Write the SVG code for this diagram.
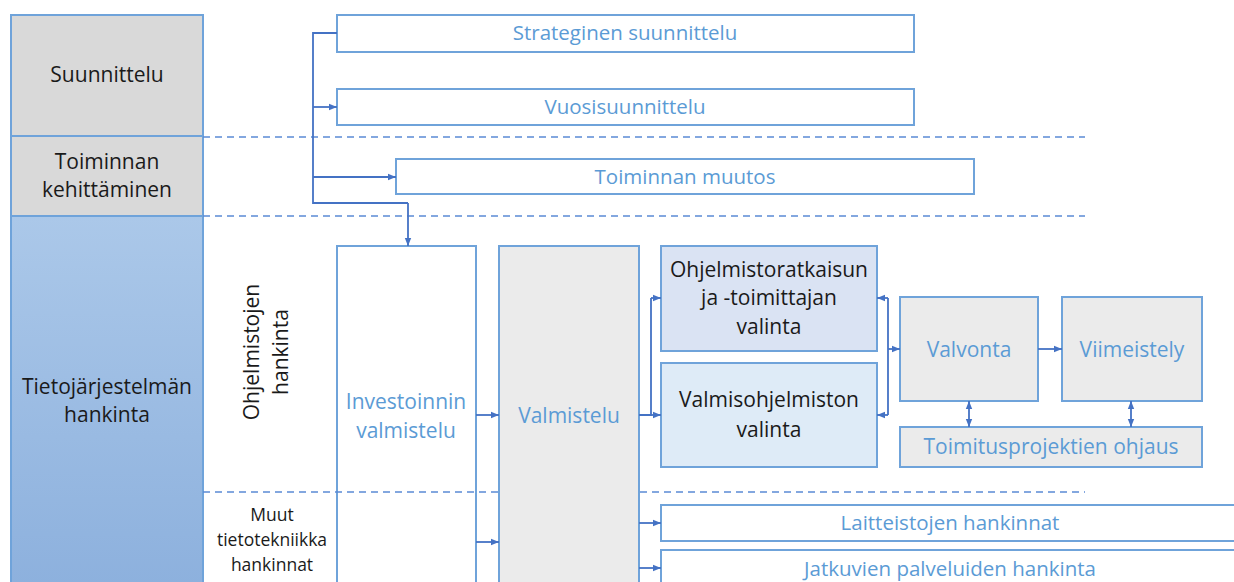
<svg xmlns="http://www.w3.org/2000/svg" width="1234" height="582" viewBox="0 0 1234 582">
  <defs>
    <linearGradient id="laneBlue" x1="0" y1="0" x2="0" y2="1">
      <stop offset="0" stop-color="#abc8e9"/>
      <stop offset="1" stop-color="#8cb0dd"/>
    </linearGradient>
    <marker id="arr" viewBox="0 0 8 8" refX="8" refY="4" markerWidth="8" markerHeight="8" markerUnits="userSpaceOnUse" orient="auto-start-reverse">
      <path d="M0,0.8 L8,4 L0,7.2 Z" fill="#4472c4"/>
    </marker>
    <style>
      .lane { stroke: #6fa3da; stroke-width: 2; }
      .box { stroke: #6fa3da; stroke-width: 2; }
      .white { fill: #ffffff; }
      .grey { fill: #ebebeb; }
      .dash { stroke: #5b8bd5; stroke-width: 1.5; stroke-dasharray: 7 5; fill: none; }
      .wire { stroke: #4472c4; stroke-width: 1.8; fill: none; }
      .arrow { marker-end: url(#arr); }
      .both { marker-start: url(#arr); marker-end: url(#arr); }
      text { font-family: "Open Sans", "Noto Sans", "Liberation Sans", sans-serif; text-anchor: middle; }
      .dark { fill: #1a1a1a; font-size: 21px; }
      .blue { fill: #5b9bd5; font-size: 20.5px; }
      .big { font-size: 21px; }
      .small { fill: #1a1a1a; font-size: 17.5px; }
    </style>
  </defs>

  <!-- swimlane headers -->
  <g id="lane-suunnittelu">
    <rect class="lane" x="11" y="15" width="192" height="121" fill="#d9d9d9"/>
    <text class="dark" x="107" y="82">Suunnittelu</text>
  </g>
  <g id="lane-kehittaminen">
    <rect class="lane" x="11" y="136" width="192" height="80" fill="#d9d9d9"/>
    <text class="dark" x="107" y="169">Toiminnan</text>
    <text class="dark" x="107" y="197">kehittäminen</text>
  </g>
  <g id="lane-hankinta">
    <rect class="lane" x="11" y="216" width="192" height="380" fill="url(#laneBlue)"/>
    <text class="dark" x="107" y="394">Tietojärjestelmän</text>
    <text class="dark" x="107" y="422">hankinta</text>
  </g>

  <!-- sub-lane labels -->
  <g id="sublane-ohjelmistot">
    <text class="dark" transform="translate(259,352) rotate(-90)">Ohjelmistojen</text>
    <text class="dark" transform="translate(288,352) rotate(-90)">hankinta</text>
  </g>
  <g id="sublane-muut">
    <text class="small" x="272" y="521">Muut</text>
    <text class="small" x="272" y="546">tietotekniikka</text>
    <text class="small" x="272" y="571">hankinnat</text>
  </g>

  <!-- process boxes -->
  <g id="strateginen">
    <rect class="box white" x="337" y="15" width="577" height="37"/>
    <text class="blue" x="625" y="40">Strateginen suunnittelu</text>
  </g>
  <g id="vuosisuunnittelu">
    <rect class="box white" x="337" y="89" width="577" height="36"/>
    <text class="blue" x="625" y="114">Vuosisuunnittelu</text>
  </g>
  <g id="toiminnan-muutos">
    <rect class="box white" x="396" y="159" width="578" height="35"/>
    <text class="blue" x="685" y="184">Toiminnan muutos</text>
  </g>
  <g id="investoinnin-valmistelu">
    <rect class="box white" x="337" y="246" width="139" height="346"/>
    <text class="blue big" x="406" y="409">Investoinnin</text>
    <text class="blue big" x="406" y="438">valmistelu</text>
  </g>
  <g id="valmistelu">
    <rect class="box grey" x="499" y="246" width="140" height="346"/>
    <text class="blue big" x="569" y="423">Valmistelu</text>
  </g>
  <g id="ohjelmistoratkaisu">
    <rect class="box" x="661" y="246" width="216" height="105" fill="#dae3f3"/>
    <text class="dark" x="769" y="277">Ohjelmistoratkaisun</text>
    <text class="dark" x="769" y="305">ja -toimittajan</text>
    <text class="dark" x="769" y="334">valinta</text>
  </g>
  <g id="valmisohjelmisto">
    <rect class="box" x="661" y="363" width="216" height="104" fill="#deebf7"/>
    <text class="dark" x="769" y="407">Valmisohjelmiston</text>
    <text class="dark" x="769" y="437">valinta</text>
  </g>
  <g id="valvonta">
    <rect class="box grey" x="900" y="297" width="138" height="104"/>
    <text class="blue big" x="969" y="357">Valvonta</text>
  </g>
  <g id="viimeistely">
    <rect class="box grey" x="1062" y="297" width="140" height="104"/>
    <text class="blue big" x="1132" y="357">Viimeistely</text>
  </g>
  <g id="toimitusprojektit">
    <rect class="box grey" x="900" y="427" width="302" height="40"/>
    <text class="blue big" x="1051" y="454">Toimitusprojektien ohjaus</text>
  </g>
  <g id="laitteistot">
    <rect class="box white" x="661" y="505" width="590" height="36"/>
    <text class="blue" x="950" y="530">Laitteistojen hankinnat</text>
  </g>
  <g id="palvelut">
    <rect class="box white" x="661" y="550" width="590" height="50"/>
    <text class="blue" x="950" y="576">Jatkuvien palveluiden hankinta</text>
  </g>

  <!-- lane separators (the lower one runs over the investment box, but stops at the grey column) -->
  <g id="separators">
    <line class="dash" x1="203" y1="137" x2="1085" y2="137"/>
    <line class="dash" x1="203" y1="216" x2="1085" y2="216"/>
    <line class="dash" x1="203" y1="492" x2="498" y2="492"/>
    <line class="dash" x1="640" y1="492" x2="1085" y2="492"/>
  </g>

  <!-- connectors -->
  <g id="connectors">
    <path class="wire" d="M337,33 H313 V203 H408"/>
    <path class="wire arrow" d="M313,107 H337"/>
    <path class="wire arrow" d="M313,177 H396"/>
    <path class="wire arrow" d="M408,203 V246"/>
    <path class="wire arrow" d="M476,415 H499"/>
    <path class="wire arrow" d="M476,542 H499"/>
    <path class="wire" d="M639,415 H651 V298"/>
    <path class="wire arrow" d="M651,298 H661"/>
    <path class="wire arrow" d="M651,415 H661"/>
    <path class="wire" d="M888,298 V415"/>
    <path class="wire arrow" d="M888,298 H877"/>
    <path class="wire arrow" d="M888,415 H877"/>
    <path class="wire arrow" d="M888,349 H900"/>
    <path class="wire arrow" d="M1038,349 H1062"/>
    <path class="wire both" d="M969,401 V427"/>
    <path class="wire both" d="M1131,401 V427"/>
    <path class="wire arrow" d="M639,523 H661"/>
    <path class="wire arrow" d="M639,568 H661"/>
  </g>
</svg>
